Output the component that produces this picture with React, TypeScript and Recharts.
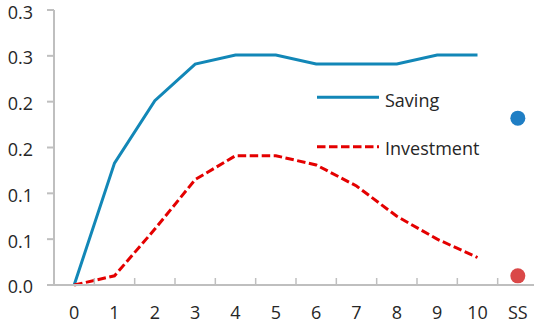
import { LineChart, Line, XAxis, YAxis } from "recharts";

const categories = ["0", "1", "2", "3", "4", "5", "6", "7", "8", "9", "10", "SS"];
const saving = [0, 0.133, 0.201, 0.241, 0.251, 0.251, 0.241, 0.241, 0.241, 0.251, 0.251];
const investment = [0, 0.01, 0.061, 0.115, 0.141, 0.141, 0.131, 0.108, 0.075, 0.05, 0.03];
const ssSaving = 0.182;
const ssInvestment = 0.01;
const yTicks = [0, 0.05, 0.1, 0.15, 0.2, 0.25, 0.3];
const yTickLabels = ["0.0", "0.1", "0.1", "0.2", "0.2", "0.3", "0.3"];

const FONT = "'Open Sans', sans-serif";
const TEXT = "#262626";
const AXIS = "#BFBFBF";
const BLUE = "#1287B7";
const RED = "#E40000";
const DASH = "8.5 3.5";

const W = 540;
const H = 326;
const PLOT_LEFT = 54;
const PLOT_RIGHT = 538;
const PLOT_TOP = 10;
const PLOT_BOTTOM = 285;
const BAND = (PLOT_RIGHT - PLOT_LEFT) / categories.length;

const data = categories.map((c, i) => ({
  name: c,
  saving: i < saving.length ? saving[i] : null,
  investment: i < investment.length ? investment[i] : null,
  ssSaving: c === "SS" ? ssSaving : null,
  ssInvestment: c === "SS" ? ssInvestment : null,
}));

function XTick(props: any) {
  const { x, y, payload, index } = props;
  const edge = x - BAND / 2;
  return (
    <g>
      {index > 0 && <line x1={edge} x2={edge} y1={y} y2={y - 7} stroke={AXIS} strokeWidth={1.5} />}
      <text x={x} y={y + 34} textAnchor="middle" fill={TEXT} fontSize={18} fontFamily={FONT}>
        {payload.value}
      </text>
    </g>
  );
}

// legend sits inside the plot, like the original
function LegendBox() {
  return (
    <svg width={190} height={85} style={{ position: "absolute", left: 310, top: 80 }}>
      <line x1={7} x2={69} y1={17.3} y2={17.3} stroke={BLUE} strokeWidth={3} />
      <text x={75} y={26.5} fill={TEXT} fontSize={18} fontFamily={FONT}>
        Saving
      </text>
      <line x1={7} x2={69} y1={66.7} y2={66.7} stroke={RED} strokeWidth={3} strokeDasharray={DASH} />
      <text x={75} y={74.5} fill={TEXT} fontSize={18} fontFamily={FONT}>
        Investment
      </text>
    </svg>
  );
}

export default function App() {
  return (
    <div style={{ position: "absolute", left: 0, top: 0, width: 534, height: 326, overflow: "hidden", background: "#fff" }}>
      <LineChart
        width={W}
        height={H}
        data={data}
        margin={{ top: PLOT_TOP, right: W - PLOT_RIGHT, bottom: 0, left: 0 }}
      >
        <XAxis
          dataKey="name"
          scale="band"
          interval={0}
          height={H - PLOT_BOTTOM}
          tickSize={0}
          tickMargin={0}
          tickLine={false}
          axisLine={{ stroke: AXIS, strokeWidth: 2 }}
          tick={<XTick />}
        />
        <YAxis
          width={PLOT_LEFT}
          domain={[0, 0.3]}
          ticks={yTicks}
          tickFormatter={(_v: number, i: number) => yTickLabels[i]}
          tickSize={7}
          tickMargin={14}
          axisLine={{ stroke: AXIS, strokeWidth: 2 }}
          tickLine={{ stroke: AXIS, strokeWidth: 2 }}
          tick={{ fill: TEXT, fontSize: 18, fontFamily: FONT, dy: 2 }}
        />
        <Line dataKey="saving" stroke={BLUE} strokeWidth={3} dot={false} activeDot={false} isAnimationActive={false} />
        <Line
          dataKey="investment"
          stroke={RED}
          strokeWidth={3}
          strokeDasharray={DASH}
          dot={false}
          activeDot={false}
          isAnimationActive={false}
        />
        <Line
          dataKey="ssSaving"
          stroke="none"
          dot={{ r: 7.5, fill: "#1F7EC4", stroke: "none" }}
          activeDot={false}
          isAnimationActive={false}
        />
        <Line
          dataKey="ssInvestment"
          stroke="none"
          dot={{ r: 7.5, fill: "#DA4848", stroke: "none" }}
          activeDot={false}
          isAnimationActive={false}
        />
      </LineChart>
      <LegendBox />
    </div>
  );
}
